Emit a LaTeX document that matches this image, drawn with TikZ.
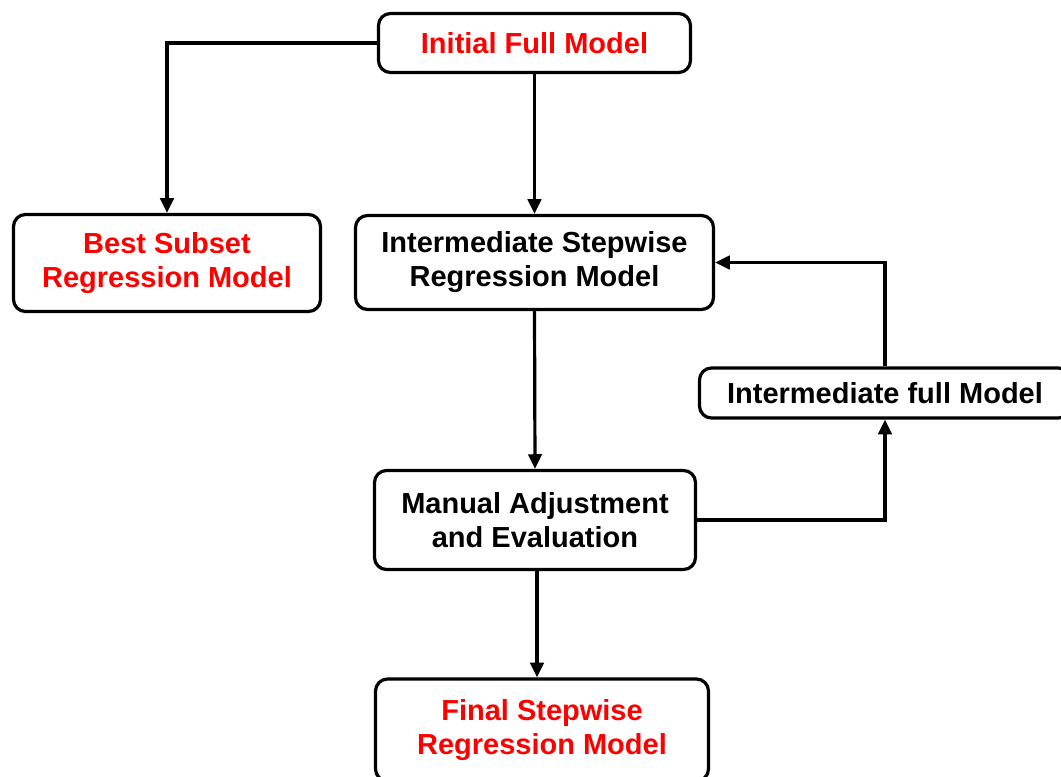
\documentclass[tikz,border=0pt]{standalone}
\usepackage{fontspec}
\setmainfont{Liberation Sans}
\usetikzlibrary{arrows.meta}
\definecolor{tred}{RGB}{255,0,0}
\tikzset{
  box/.style={draw=black, line width=2.4pt, rounded corners=9pt, fill=white,
    align=center, inner sep=0pt,
    font=\fontsize{21.75}{25.5}\selectfont\bfseries},
  redbox/.style={box, text=tred},
  conn/.style={draw=black, line width=2.4pt, -{Triangle[length=11pt,width=10pt]}}
}
\begin{document}
\begin{tikzpicture}[x=0.75pt,y=-0.75pt]
\useasboundingbox (0,0) rectangle (1061,776);
\clip (0,0) rectangle (1061,776);
\node[redbox, minimum width=312pt*0.75/0.75*0.75, minimum height=59*0.75pt] (init) at (534.5,43) {Initial Full Model};
\node[redbox, minimum width=307*0.75pt, minimum height=97*0.75pt] (best) at (167,263) {Best Subset\\Regression Model};
\node[box, minimum width=358*0.75pt, minimum height=94*0.75pt] (inter) at (534.5,262.5) {Intermediate Stepwise\\Regression Model};
\node[box, minimum width=371*0.75pt, minimum height=50*0.75pt] (ifull) at (885,393) {Intermediate full Model};
\node[box, minimum width=321*0.75pt, minimum height=99*0.75pt] (manual) at (535,520) {Manual Adjustment\\and Evaluation};
\node[redbox, minimum width=333*0.75pt, minimum height=102*0.75pt] (final) at (542,730) {Final Stepwise\\Regression Model};
\draw[conn] (init.west) -| (best.north);
\draw[conn] (init.south) -- (inter.north);
\draw[conn] (inter.south) -- (manual.north);
\draw[conn] (manual.east) -| (ifull.south);
\draw[conn] (ifull.north) |- (inter.east);
\draw[conn] (manual.south -| 537,0) -- (final.north -| 537,0);
\end{tikzpicture}
\end{document}
